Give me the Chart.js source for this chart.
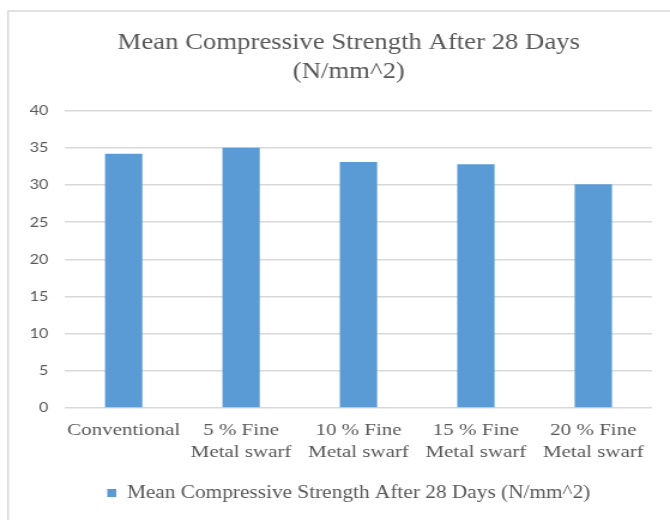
<!DOCTYPE html>
<html>
<head>
<meta charset="utf-8">
<script src="https://cdn.jsdelivr.net/npm/chart.js@4/dist/chart.umd.min.js"></script>
<style>
  html, body { margin: 0; padding: 0; background: #ffffff; overflow: hidden; width: 670px; height: 520px; }
  #wrap { position: absolute; left: 0; top: 0; width: 559px; height: 520px; transform: scaleX(1.19857); transform-origin: 0 0; }
</style>
</head>
<body>
<div id="wrap"><canvas id="c" width="559" height="520"></canvas></div>
<script>
const categories = ['Conventional', ['5 % Fine', 'Metal swarf'], ['10 % Fine', 'Metal swarf'], ['15 % Fine', 'Metal swarf'], ['20 % Fine', 'Metal swarf']];
const strengthValues = [34.2, 35.0, 33.1, 32.8, 30.1];
const seriesName = 'Mean Compressive Strength After 28 Days (N/mm^2)';
const titleLines = ['Mean Compressive Strength After 28 Days', '(N/mm^2)'];
const yTicks = { min: 0, max: 40, step: 5 };

const gray = '#595959';
const serif = '"Liberation Serif", "Times New Roman", serif';

const framePlugin = {
  id: 'frame',
  beforeDraw(chart) {
    const ctx = chart.ctx;
    ctx.save();
    ctx.fillStyle = '#ffffff';
    ctx.fillRect(0, 0, chart.width, chart.height);
    ctx.strokeStyle = '#d9d9d9';
    ctx.lineWidth = 1.5;
    ctx.strokeRect(6.7, 11, 1000, 1000);
    ctx.restore();
  }
};

new Chart(document.getElementById('c'), {
  type: 'bar',
  data: {
    labels: categories,
    datasets: [{
      label: seriesName,
      data: strengthValues,
      backgroundColor: '#5B9BD5',
      borderWidth: 0,
      categoryPercentage: 1.0,
      barPercentage: 0.318
    }]
  },
  options: {
    responsive: false,
    animation: false,
    devicePixelRatio: 1,
    layout: { padding: { top: 28.5, left: 23, right: 0, bottom: 8.1 } },
    plugins: {
      title: {
        display: true,
        text: titleLines,
        color: gray,
        font: { family: serif, size: 22.3, weight: 'normal', lineHeight: 1.3 },
        padding: { top: 0, bottom: 24.2 }
      },
      legend: {
        display: true,
        position: 'bottom',
        labels: {
          color: gray,
          font: { family: serif, size: 17.8 },
          boxWidth: 7.5,
          boxHeight: 8,
          padding: 10.1
        }
      },
      tooltip: { enabled: false }
    },
    scales: {
      x: {
        grid: { display: false, drawTicks: false },
        border: { display: false },
        ticks: {
          color: gray,
          font: { family: serif, size: 17.5, lineHeight: 1.257 },
          padding: 11,
          maxRotation: 0,
          autoSkip: false
        }
      },
      y: {
        min: yTicks.min,
        max: yTicks.max,
        grid: { color: '#d9d9d9', lineWidth: 1.5, drawTicks: false },
        border: { display: false },
        ticks: {
          stepSize: yTicks.step,
          color: gray,
          font: { family: 'Lato, "Liberation Sans", sans-serif', size: 13.5 },
          padding: 13.8
        },
        afterFit(s) { s.width = 31.2; }
      },
      y2: {
        position: 'right',
        display: true,
        grid: { display: false, drawTicks: false },
        border: { display: false },
        ticks: { display: false },
        afterFit(s) { s.width = 15; }
      }
    }
  },
  plugins: [framePlugin]
});
</script>
</body>
</html>
